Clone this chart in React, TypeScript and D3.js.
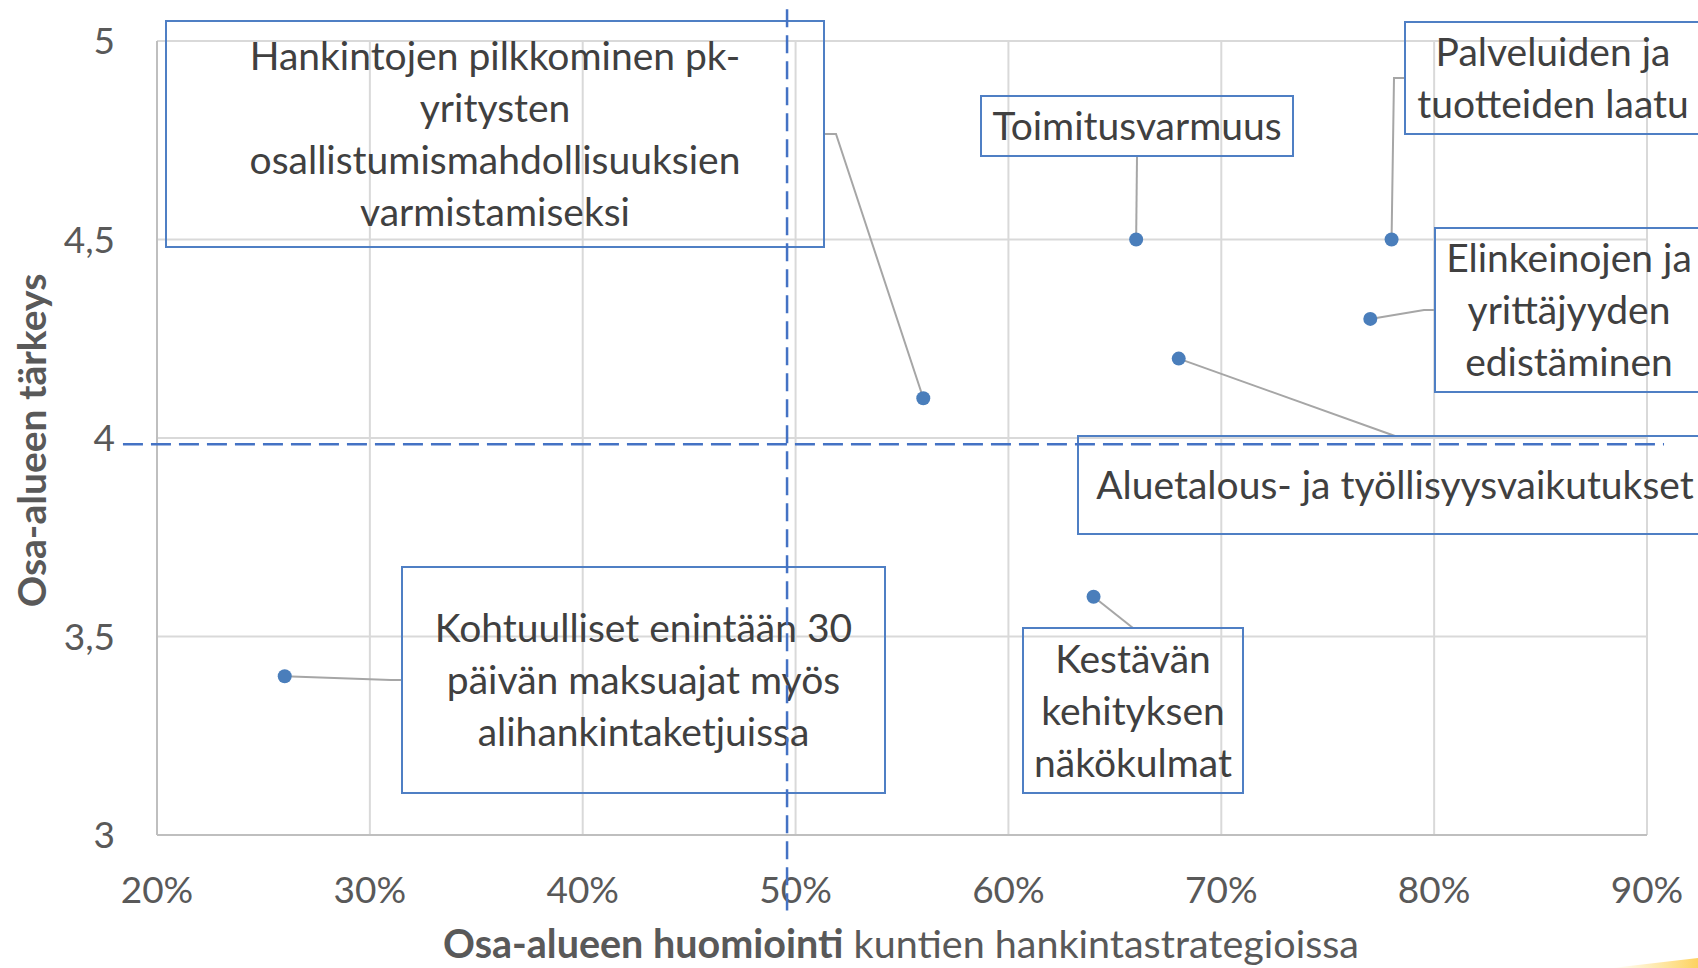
import * as d3 from 'd3';

// ── Data ───────────────────────────────────────────────────────────────────
const categories = [
  'Hankintojen pilkkominen pk-yritysten osallistumismahdollisuuksien varmistamiseksi',
  'Toimitusvarmuus',
  'Palveluiden ja tuotteiden laatu',
  'Elinkeinojen ja yrittäjyyden edistäminen',
  'Aluetalous- ja työllisyysvaikutukset',
  'Kestävän kehityksen näkökulmat',
  'Kohtuulliset enintään 30 päivän maksuajat myös alihankintaketjuissa'
];
// share of municipal procurement strategies that consider the area
const consideration = [0.56, 0.66, 0.78, 0.77, 0.68, 0.64, 0.26];
// importance of the area (1–5)
const importance = [4.1, 4.5, 4.5, 4.3, 4.2, 3.6, 3.4];

// wrapped label lines as in the original
const labelLines = [
  ['Hankintojen pilkkominen pk-', 'yritysten', 'osallistumismahdollisuuksien', 'varmistamiseksi'],
  ['Toimitusvarmuus'],
  ['Palveluiden ja', 'tuotteiden laatu'],
  ['Elinkeinojen ja', 'yrittäjyyden', 'edistäminen'],
  ['Aluetalous- ja työllisyysvaikutukset'],
  ['Kestävän', 'kehityksen', 'näkökulmat'],
  ['Kohtuulliset enintään 30', 'päivän maksuajat myös', 'alihankintaketjuissa']
];

// dashed reference lines (average split)
const refX = 0.496;
const refY = 3.984;
const refXSpan = [2.81, 5.08];
const refYSpan = [0.184, 0.908];

const xTicks = [0.2, 0.3, 0.4, 0.5, 0.6, 0.7, 0.8, 0.9];
const yTicks = [3, 3.5, 4, 4.5, 5];

// ── Layout (label boxes in pixels, leader side) ───────────────────────────
const boxes = [
  { x0: 166, y0: 21, x1: 824, y1: 247, side: 'right' },
  { x0: 981, y0: 96, x1: 1293, y1: 156, side: 'bottom' },
  { x0: 1405, y0: 22, x1: 1701, y1: 134, side: 'left' },
  { x0: 1435, y0: 228, x1: 1703, y1: 392, side: 'left' },
  { x0: 1078, y0: 436, x1: 1712, y1: 534, side: 'top' },
  { x0: 1023, y0: 628, x1: 1243, y1: 793, side: 'top' },
  { x0: 402, y0: 567, x1: 885, y1: 793, side: 'left' }
];

const W = 1698;
const H = 968;
const font = 'Lato, "Open Sans", sans-serif';
const blue = '#4a7ebb';
const boxBlue = '#4f7fc4';
const lineH = 52;

const App = () => {
  const x = d3.scaleLinear().domain([0.2, 0.9]).range([157, 1647]);
  const y = d3.scaleLinear().domain([3, 5]).range([835, 41]);
  const fmtX = d3.format('.0%');
  const fmtY = (v: number) => String(v).replace('.', ',');

  const leader = (i: number) => {
    const b = boxes[i];
    const px = x(consideration[i]);
    const py = y(importance[i]);
    const cx = (b.x0 + b.x1) / 2;
    const cy = (b.y0 + b.y1) / 2;
    if (b.side === 'right') return `M${px},${py}L${b.x1 + 12},${cy}L${b.x1},${cy}`;
    if (b.side === 'left') return `M${px},${py}L${b.x0 - 11},${cy}L${b.x0},${cy}`;
    if (b.side === 'bottom') return `M${px},${py}L${cx},${b.y1}`;
    return `M${px},${py}L${cx},${b.y0}`;
  };

  return (
    <div style={{ position: 'absolute', left: 0, top: 0, width: W, height: H, background: '#fff' }}>
      <svg width={W} height={H} style={{ display: 'block' }}>
        <defs>
          <linearGradient id="swoosh" x1="0" x2="1" y1="0" y2="0">
            <stop offset="0%" stopColor="#ffd966" stopOpacity={0} />
            <stop offset="100%" stopColor="#fdd261" stopOpacity={1} />
          </linearGradient>
        </defs>

        {/* gridlines */}
        {xTicks.slice(1).map(t => (
          <line key={'gx' + t} x1={x(t)} x2={x(t)} y1={y(5)} y2={y(3)} stroke="#d9d9d9" strokeWidth={2} />
        ))}
        {yTicks.slice(1).map(t => (
          <line key={'gy' + t} x1={x(0.2)} x2={x(0.9)} y1={y(t)} y2={y(t)} stroke="#d9d9d9" strokeWidth={2} />
        ))}
        {/* axes */}
        <line x1={x(0.2)} x2={x(0.2)} y1={y(5)} y2={y(3)} stroke="#bfbfbf" strokeWidth={2} />
        <line x1={x(0.2)} x2={x(0.9)} y1={y(3)} y2={y(3)} stroke="#bfbfbf" strokeWidth={2} />

        {/* tick labels */}
        {xTicks.map(t => (
          <text key={'tx' + t} x={x(t)} y={903} textAnchor="middle" fontFamily={font} fontSize={37} fill="#595959">
            {fmtX(t)}
          </text>
        ))}
        {yTicks.map(t => (
          <text key={'ty' + t} x={115} y={y(t) + 13} textAnchor="end" fontFamily={font} fontSize={37} fill="#595959">
            {fmtY(t)}
          </text>
        ))}

        {/* axis titles */}
        <text x={901} y={958} textAnchor="middle" fontFamily={font} fontSize={39.5} fill="#595959">
          <tspan fontWeight="bold">Osa-alueen huomiointi</tspan>
          <tspan> kuntien hankintastrategioissa</tspan>
        </text>
        <text
          transform={`translate(46,${(273 + 608) / 2}) rotate(-90)`}
          textAnchor="middle"
          fontFamily={font}
          fontWeight="bold"
          fontSize={39}
          fill="#595959"
        >
          Osa-alueen tärkeys
        </text>

        {/* leader lines */}
        {categories.map((c, i) => (
          <path key={'l' + i} d={leader(i)} fill="none" stroke="#a6a6a6" strokeWidth={2} />
        ))}

        {/* label boxes */}
        {categories.map((c, i) => {
          const b = boxes[i];
          const cx = (b.x0 + b.x1) / 2;
          const cy = (b.y0 + b.y1) / 2;
          const n = labelLines[i].length;
          return (
            <g key={'b' + i}>
              <rect x={b.x0} y={b.y0} width={b.x1 - b.x0} height={b.y1 - b.y0} fill="none" stroke={boxBlue} strokeWidth={2} />
              <text textAnchor="middle" fontFamily={font} fontSize={39} fill="#404040">
                {labelLines[i].map((ln, j) => (
                  <tspan key={j} x={cx} y={cy + (j - (n - 1) / 2) * lineH + 14}>
                    {ln}
                  </tspan>
                ))}
              </text>
            </g>
          );
        })}

        {/* reference lines */}
        <line x1={x(refX)} x2={x(refX)} y1={y(refXSpan[1])} y2={y(refXSpan[0])} stroke="#4472c4" strokeWidth={2.5} strokeDasharray="18 8" />
        <line x1={x(refYSpan[0])} x2={x(refYSpan[1])} y1={y(refY)} y2={y(refY)} stroke="#4472c4" strokeWidth={2.5} strokeDasharray="20 8" />

        {/* points */}
        {categories.map((c, i) => (
          <circle key={'p' + i} cx={x(consideration[i])} cy={y(importance[i])} r={7} fill={blue} />
        ))}

        {/* corner decoration */}
        <path d={`M1612,${H}L${W},958L${W},${H}Z`} fill="url(#swoosh)" />
      </svg>
    </div>
  );
};

export default App;
